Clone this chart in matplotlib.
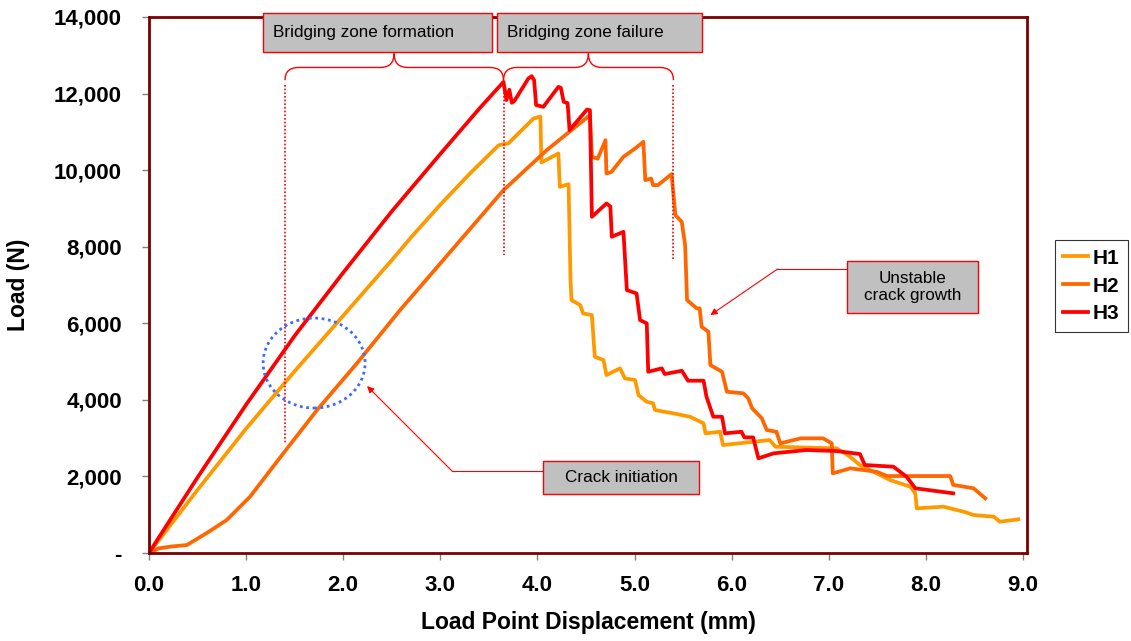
import matplotlib
matplotlib.use('Agg')
import matplotlib.pyplot as plt
from matplotlib.patches import Ellipse, Rectangle, PathPatch
from matplotlib.path import Path
from matplotlib.lines import Line2D
from matplotlib.ticker import FuncFormatter

plt.rcParams['font.family'] = ['Liberation Sans', 'DejaVu Sans']

# ---------------- data ----------------
series_names = ['H1', 'H2', 'H3']
series_colors = ['#FF9900', '#FF6600', '#FF0000']

h1_disp = [0, 0.5, 1.0, 1.5, 2.0, 2.5, 2.7, 3.0, 3.3, 3.6, 3.7, 3.96, 4.03, 4.04, 4.15,
           4.215, 4.23, 4.32, 4.34, 4.35, 4.44, 4.47, 4.56, 4.59, 4.68, 4.71, 4.85, 4.90,
           5.005, 5.04, 5.125, 5.19, 5.21, 5.40, 5.57, 5.71, 5.73, 5.88, 5.91, 6.39, 6.45,
           7.08, 7.20, 7.32, 7.63, 7.84, 7.89, 7.905, 8.18, 8.39, 8.49, 8.70, 8.76, 8.95]
h1_load = [0, 1650, 3250, 4750, 6200, 7650, 8250, 9100, 9900, 10650, 10700, 11350, 11400,
           10200, 10348, 10436, 9564, 9634, 7128, 6606, 6475, 6258, 6214, 5126, 5039, 4648,
           4823, 4561, 4517, 4125, 3950, 3909, 3734, 3647, 3559, 3386, 3125, 3167, 2820,
           2950, 2776, 2733, 2550, 2298, 1906, 1731, 1559, 1167, 1209, 1078, 992, 948, 817, 880]

h2_disp = [0, 0.1, 0.216, 0.39, 0.59, 0.80, 1.04, 1.383, 1.73, 2.14, 2.585, 3.0, 3.65,
           4.095, 4.54, 4.56, 4.62, 4.70, 4.71, 4.76, 4.885, 5.005, 5.09, 5.11, 5.17, 5.19,
           5.24, 5.38, 5.42, 5.485, 5.52, 5.54, 5.64, 5.67, 5.69, 5.76, 5.78, 5.90, 5.95,
           6.12, 6.17, 6.21, 6.31, 6.36, 6.46, 6.50, 6.71, 6.94, 7.03, 7.04, 7.22, 7.49,
           7.60, 8.25, 8.28, 8.49, 8.61]
h2_load = [0, 120, 165, 209, 514, 862, 1470, 2603, 3734, 4953, 6345, 7566, 9478, 10522,
           11436, 10348, 10300, 10784, 9913, 9950, 10348, 10566, 10740, 9739, 9780, 9609,
           9609, 9896, 8825, 8651, 8042, 6606, 6389, 6389, 5909, 5778, 4909, 4734, 4212,
           4170, 4039, 3778, 3517, 3212, 3167, 2864, 2995, 2995, 2864, 2081, 2212, 2123,
           2010, 2010, 1780, 1690, 1428]

h3_disp = [0, 0.1, 0.5, 1.0, 1.5, 2.0, 2.5, 3.0, 3.4, 3.65, 3.68, 3.71, 3.735, 3.76, 3.906,
           3.94, 3.965, 3.986, 4.06, 4.215, 4.24, 4.27, 4.31, 4.33, 4.51, 4.54, 4.56, 4.71,
           4.75, 4.765, 4.885, 4.92, 5.02, 5.056, 5.125, 5.14, 5.28, 5.31, 5.486, 5.55, 5.71,
           5.74, 5.81, 5.90, 5.93, 6.10, 6.13, 6.22, 6.275, 6.43, 6.77, 7.08, 7.32, 7.37,
           7.665, 7.80, 7.89, 8.28]
h3_load = [0, 400, 1975, 3875, 5675, 7325, 8925, 10425, 11605, 12305, 11830, 12100, 11760,
           11800, 12394, 12455, 12350, 11700, 11653, 12175, 12150, 11784, 11750, 11045,
           11584, 11567, 8781, 9130, 9050, 8259, 8390, 6867, 6780, 6084, 5997, 4734, 4823,
           4674, 4760, 4500, 4500, 4081, 3559, 3559, 3125, 3167, 3020, 3020, 2472, 2603,
           2690, 2663, 2585, 2298, 2254, 1992, 1690, 1559]

x_ticks = [0, 1, 2, 3, 4, 5, 6, 7, 8, 9]
y_ticks = [0, 2000, 4000, 6000, 8000, 10000, 12000, 14000]

# ---------------- figure ----------------
W, H = 1131, 641
fig = plt.figure(figsize=(W / 100, H / 100), dpi=100)
ax = fig.add_axes([149 / W, 1 - 553 / H, (1027 - 149) / W, (553 - 17) / H])

for d, l, c, n in zip([h1_disp, h2_disp, h3_disp], [h1_load, h2_load, h3_load],
                      series_colors, series_names):
    ax.plot(d, l, color=c, lw=2.7, label=n, solid_joinstyle='round')

ax.set_xlim(0, 9.04)
ax.set_ylim(0, 14000)
ax.set_xticks(x_ticks)
ax.set_yticks(y_ticks)
ax.xaxis.set_major_formatter(FuncFormatter(lambda v, p: f'{v:.1f}'))
ax.yaxis.set_major_formatter(FuncFormatter(lambda v, p: '-' if v == 0 else f'{int(v):,}'))
ax.tick_params(axis='both', direction='out', length=5, width=1, color='#808080',
               labelsize=16)
ax.tick_params(axis='y', pad=14.5)
ax.tick_params(axis='x', pad=11)
for lbl in ax.get_xticklabels() + ax.get_yticklabels():
    lbl.set_fontweight('bold')
for s in ax.spines.values():
    s.set_color('#7A0000')
    s.set_linewidth(2)

fig.text(19 / W, 1 - 285 / H, 'Load (N)', rotation=90, ha='center', va='center',
         fontweight='bold', fontsize=16.5)
fig.text(588 / W, 1 - 622 / H, 'Load Point Displacement (mm)', ha='center', va='center',
         fontweight='bold', fontsize=16.5)

# legend
handles = [Line2D([], [], color=c, lw=2.7) for c in series_colors]
leg = fig.legend(handles, series_names, loc='upper right',
                 bbox_to_anchor=(1128 / W, 1 - 240 / H), frameon=True, fancybox=False,
                 edgecolor='black', handlelength=1.2, handletextpad=0.2,
                 borderpad=0.42, borderaxespad=0, labelspacing=0.42,
                 prop={'weight': 'bold', 'size': 15})
leg.get_frame().set_linewidth(0.8)

# ---------------- annotations ----------------
red = '#FF0000'
box_kw = dict(facecolor='#C0C0C0', edgecolor=red, lw=1, clip_on=False, zorder=6)
txt_kw = dict(fontsize=12.3, color='black', zorder=7, clip_on=False)

# top boxes
ax.add_patch(Rectangle((1.177, 13089), 3.535 - 1.177, 14107 - 13089, **box_kw))
ax.text(1.28, 13598, 'Bridging zone formation', ha='left', va='center', **txt_kw)
ax.add_patch(Rectangle((3.581, 13089), 5.698 - 3.581, 14107 - 13089, **box_kw))
ax.text(3.685, 13598, 'Bridging zone failure', ha='left', va='center', **txt_kw)


def brace(x0, x1, xm, y_end, y_mid, y_tip, r=0.14):
    verts = [(x0, y_end), (x0, y_mid), (x0 + r, y_mid),
             (xm - r, y_mid), (xm, y_mid), (xm, y_tip),
             (xm, y_mid), (xm + r, y_mid),
             (x1 - r, y_mid), (x1, y_mid), (x1, y_end)]
    codes = [Path.MOVETO, Path.CURVE3, Path.CURVE3,
             Path.LINETO, Path.CURVE3, Path.CURVE3,
             Path.CURVE3, Path.CURVE3,
             Path.LINETO, Path.CURVE3, Path.CURVE3]
    ax.add_patch(PathPatch(Path(verts, codes), fill=False, edgecolor=red, lw=1,
                           clip_on=False, zorder=5))


brace(1.40, 3.65, 2.523, 12350, 12682, 13047)
brace(3.65, 5.40, 4.524, 12350, 12682, 13047)

# dotted vertical lines
for x, ylow in [(1.40, 2870), (3.65, 7780), (5.40, 7650)]:
    ax.plot([x, x], [12220, ylow], color=red, lw=1.2, ls=(0, (1, 1.2)), zorder=4)

# blue dotted circle
ax.add_patch(Ellipse((1.70, 4961), 1.05, 2350, fill=False, edgecolor='#3D6BFF', lw=2,
                     ls=(0, (1, 1.3)), zorder=5))

# crack initiation
ax.add_patch(Rectangle((4.06, 1533), 5.667 - 4.06, 2402 - 1533, **box_kw))
ax.text((4.06 + 5.667) / 2, (1533 + 2402) / 2, 'Crack initiation', ha='center',
        va='center', **txt_kw)
ax.plot([4.06, 3.12], [2141, 2141], color=red, lw=0.8, zorder=5)
ax.annotate('', xy=(2.245, 4360), xytext=(3.12, 2141),
            arrowprops=dict(arrowstyle='-|>', color=red, lw=0.8, mutation_scale=10,
                            shrinkA=0, shrinkB=0), zorder=5)

# unstable crack growth
ax.add_patch(Rectangle((7.19, 6259), 8.54 - 7.19, 7632 - 6259, **box_kw))
ax.text((7.19 + 8.54) / 2, (6259 + 7632) / 2, 'Unstable\ncrack growth', ha='center',
        va='center', linespacing=1.15, **txt_kw)
ax.plot([7.19, 6.47], [7415, 7415], color=red, lw=0.8, zorder=5)
ax.annotate('', xy=(5.78, 6214), xytext=(6.47, 7415),
            arrowprops=dict(arrowstyle='-|>', color=red, lw=0.8, mutation_scale=10,
                            shrinkA=0, shrinkB=0), zorder=5)

fig.savefig('out.png', dpi=100)
